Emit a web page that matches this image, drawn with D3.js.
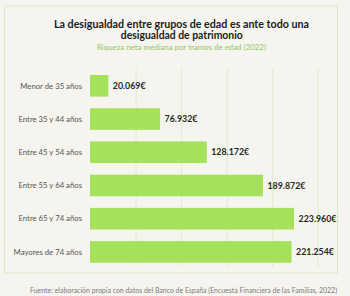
<!DOCTYPE html>
<html><head><meta charset="utf-8">
<script src="https://cdn.jsdelivr.net/npm/d3@7"></script>
<style>
html,body{margin:0;padding:0;background:#f6f4ef;}
svg{display:block;}
</style></head>
<body>
<svg id="c" width="350" height="296"></svg>
<script>
const categories = ["Menor de 35 años","Entre 35 y 44 años","Entre 45 y 54 años","Entre 55 y 64 años","Entre 65 y 74 años","Mayores de 74 años"];
const values = [20069, 76932, 128172, 189872, 223960, 221254];
const valueLabels = ["20.069€","76.932€","128.172€","189.872€","223.960€","221.254€"];
const gridTicks = [50000, 100000, 150000, 200000, 250000];
const titleLines = ["La desigualdad entre grupos de edad es ante todo una","desigualdad de patrimonio"];
const subtitle = "Riqueza neta mediana por tramos de edad (2022)";
const source = "Fuente: elaboración propia con datos del Banco de España (Encuesta Financiera de las Familias, 2022)";

const svg = d3.select("#c");
const font = "Lato, 'Open Sans', sans-serif";

svg.append("rect").attr("x",4.5).attr("y",6).attr("width",333).attr("height",267)
  .attr("fill","#f6f4ef").attr("stroke","#d9e9c4").attr("stroke-width",1);

const x = d3.scaleLinear().domain([0,250000]).range([90,317.75]);
const y = d3.scaleBand().domain(categories).range([69.2,268.5]).paddingInner(0.35).paddingOuter(0.175);

svg.append("g").selectAll("line").data(gridTicks).join("line")
  .attr("x1",d=>x(d)+0.5).attr("x2",d=>x(d)+0.5).attr("y1",68).attr("y2",267)
  .attr("stroke","#dfecce").attr("stroke-width",1);

svg.append("g").selectAll("rect").data(values).join("rect")
  .attr("x",x(0)).attr("y",(d,i)=>y(categories[i]))
  .attr("width",d=>x(d)-x(0)).attr("height",y.bandwidth())
  .attr("fill","#a5e25a");

function fitGroup(sel, refIndex, target, base){
  const n = sel.nodes()[refIndex];
  const w = n.getComputedTextLength();
  sel.attr("font-size", base * target / w);
}

const cat = svg.append("g").selectAll("text").data(categories).join("text")
  .attr("x",82).attr("y",d=>y(d)+y.bandwidth()/2).attr("dy","0.35em")
  .attr("text-anchor","end").attr("font-family",font).attr("font-size",9)
  .attr("fill","#555").text(d=>d);
fitGroup(cat, 5, 68.5, 9);

const val = svg.append("g").selectAll("text").data(values).join("text")
  .attr("x",d=>x(d)+4.5).attr("y",(d,i)=>y(categories[i])+y.bandwidth()/2).attr("dy","0.35em")
  .attr("font-family",font).attr("font-size",9).attr("font-weight","bold")
  .attr("fill","#1e2a1e").text((d,i)=>valueLabels[i]);
fitGroup(val, 5, 38, 9);

function fitText(t, target){
  t.attr("textLength", target).attr("lengthAdjust","spacingAndGlyphs");
}

fitText(svg.append("text").attr("x",181.5).attr("y",27.5).attr("text-anchor","middle")
  .attr("font-family",font).attr("font-size",11).attr("font-weight","bold").attr("fill","#1b2118")
  .text(titleLines[0]), 255);
fitText(svg.append("text").attr("x",181.8).attr("y",38.8).attr("text-anchor","middle")
  .attr("font-family",font).attr("font-size",11).attr("font-weight","bold").attr("fill","#1b2118")
  .text(titleLines[1]), 122);
fitText(svg.append("text").attr("x",181.5).attr("y",49.5).attr("text-anchor","middle")
  .attr("font-family",font).attr("font-size",8.4).attr("fill","#93c46a")
  .text(subtitle), 169);
fitText(svg.append("text").attr("x",183.5).attr("y",292.5).attr("text-anchor","middle")
  .attr("font-family",font).attr("font-size",8).attr("fill","#7a7a7a")
  .text(source), 307);
</script>
</body></html>
